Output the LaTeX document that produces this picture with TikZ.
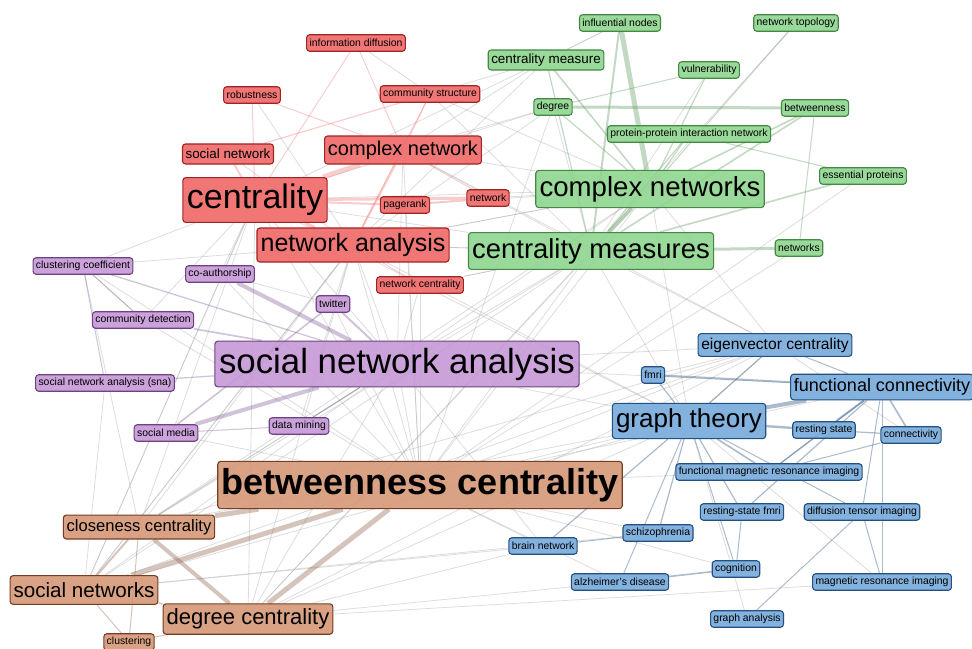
\documentclass[tikz,border=0pt]{standalone}
\usepackage{fontspec}
\setmainfont{Liberation Sans}
\usetikzlibrary{backgrounds}

\definecolor{redfill}{RGB}{240,100,100}
\definecolor{redline}{RGB}{160,36,36}
\definecolor{greenfill}{RGB}{140,212,140}
\definecolor{greenline}{RGB}{68,136,68}
\definecolor{purplefill}{RGB}{196,150,214}
\definecolor{purpleline}{RGB}{110,66,130}
\definecolor{bluefill}{RGB}{115,168,218}
\definecolor{blueline}{RGB}{36,80,128}
\definecolor{brownfill}{RGB}{214,150,115}
\definecolor{brownline}{RGB}{116,62,36}

\begin{document}
\begin{tikzpicture}[
      x=0.5pt, y=-0.5pt,
      kw/.style={draw, rounded corners=1.5pt, line width=0.55pt, text=black,
                 fill opacity=.88, text opacity=1,
                 font=\fontsize{#1}{#1}\selectfont, inner xsep={0.05*#1pt+1.2pt},
                 inner ysep=0pt, minimum height={1.2*#1pt+2pt}},
      kwred/.style={kw=#1, fill=redfill, draw=redline}, kwred/.default=5.2,
      kwgreen/.style={kw=#1, fill=greenfill, draw=greenline}, kwgreen/.default=5.2,
      kwpurple/.style={kw=#1, fill=purplefill, draw=purpleline}, kwpurple/.default=5.2,
      kwblue/.style={kw=#1, fill=bluefill, draw=blueline}, kwblue/.default=5.2,
      kwbrown/.style={kw=#1, fill=brownfill, draw=brownline}, kwbrown/.default=5.2,
      link/.style={draw=black!35, line width=#1, opacity=.38}, link/.default=0.4pt,
      linkred/.style={draw=redfill!80, line width=#1, opacity=.4},
      linkgreen/.style={draw=greenline!80, line width=#1, opacity=.4},
      linkpurple/.style={draw=purpleline!80, line width=#1, opacity=.4},
      linkblue/.style={draw=blueline!85, line width=#1, opacity=.45},
      linkbrown/.style={draw=brownline!80, line width=#1, opacity=.38},
    ]
    \useasboundingbox (0,0) rectangle (972,648);

    % red cluster
    \node[kwred] (info) at (356,43) {information diffusion};
    \node[kwred] (robust) at (252,95) {robustness};
    \node[kwred] (comstr) at (430,94) {community structure};
    \node[kwred=6.7] (socnet) at (228,154) {social network};
    \node[kwred=10] (cnet) at (403,150) {complex network};
    \node[kwred=17] (cent) at (255,200) {centrality};
    \node[kwred] (pager) at (405,205) {pagerank};
    \node[kwred] (net) at (488,198) {network};
    \node[kwred=12.5] (nana) at (353,245) {network analysis};
    \node[kwred] (netcent) at (420,285) {network centrality};

    % green cluster
    \node[kwgreen] (infl) at (620,23) {influential nodes};
    \node[kwgreen] (topo) at (796,23) {network topology};
    \node[kwgreen=6.7] (cmeas) at (546,60) {centrality measure};
    \node[kwgreen] (vuln) at (709,70) {vulnerability};
    \node[kwgreen] (deg) at (553,107) {degree};
    \node[kwgreen] (betw) at (815,108) {betweenness};
    \node[kwgreen] (ppi) at (689,134) {protein-protein interaction network};
    \node[kwgreen] (ess) at (863,176) {essential proteins};
    \node[kwgreen=13.8] (cnets) at (650,189) {complex networks};
    \node[kwgreen=13.7] (cmeasures) at (591,251) {centrality measures};
    \node[kwgreen] (nets) at (799,248) {networks};

    % purple cluster
    \node[kwpurple] (clcoef) at (83,266) {clustering coefficient};
    \node[kwpurple] (coauth) at (220,274) {co-authorship};
    \node[kwpurple] (twit) at (333,304) {twitter};
    \node[kwpurple] (comdet) at (143,320) {community detection};
    \node[kwpurple=17.4] (sna) at (397,364) {social network analysis};
    \node[kwpurple] (snasna) at (105,383) {social network analysis (sna)};
    \node[kwpurple] (smedia) at (166,433) {social media};
    \node[kwpurple] (dmin) at (299,426) {data mining};

    % blue cluster
    \node[kwblue=7.8] (eig) at (775,345) {eigenvector centrality};
    \node[kwblue] (fmri) at (653,375) {fmri};
    \node[kwblue=9] (fconn) at (882,387) {functional connectivity};
    \node[kwblue=13] (gt) at (689,421) {graph theory};
    \node[kwblue] (rest) at (824,430) {resting state};
    \node[kwblue] (conn) at (911,435) {connectivity};
    \node[kwblue] (fmrimg) at (769,472) {functional magnetic resonance imaging};
    \node[kwblue] (rsfmri) at (742,512) {resting-state fmri};
    \node[kwblue] (dti) at (862,512) {diffusion tensor imaging};
    \node[kwblue] (schiz) at (658,533) {schizophrenia};
    \node[kwblue] (brain) at (543,546) {brain network};
    \node[kwblue] (cogn) at (736,569) {cognition};
    \node[kwblue] (alz) at (620,582) {alzheimer's disease};
    \node[kwblue] (mri) at (882,582) {magnetic resonance imaging};
    \node[kwblue] (ganal) at (747,619) {graph analysis};

    % brown cluster
    \node[kwbrown=18, font=\fontsize{18}{18}\selectfont\bfseries] (bc) at (420,485) {betweenness centrality};
    \node[kwbrown=8.3] (clos) at (139,527) {closeness centrality};
    \node[kwbrown=10.3] (socnets) at (84,590) {social networks};
    \node[kwbrown=11] (degc) at (248,619) {degree centrality};
    \node[kwbrown] (clust) at (129,642) {clustering};

    \begin{scope}[on background layer]
      \fill[white] (0,0) rectangle (972,648);
      % links between clusters
      \foreach \a/\b in {cent/sna, cent/bc, cent/clcoef, cent/socnets, cent/clos, cent/degc,
          cent/cmeasures, cent/cnets, cent/gt, cent/comdet, cent/coauth,
          nana/sna, nana/bc, nana/clcoef, nana/socnets, nana/cmeasures, nana/cnets, nana/gt,
          nana/degc, nana/clos, nana/twit, nana/dmin,
          cnet/sna, cnet/bc, cnet/cnets, cnet/cmeasures, cnet/cmeas, cnet/deg, cnet/eig,
          sna/cmeasures, sna/cnets, sna/gt, sna/eig, sna/socnets, sna/degc, sna/clos,
          sna/netcent, sna/fconn, sna/brain,
          bc/cmeasures, bc/cnets, bc/gt, bc/eig, bc/fconn, bc/brain, bc/schiz, bc/clcoef,
          bc/twit, bc/netcent, bc/pager, bc/ess, bc/nets, bc/fmrimg, bc/smedia, bc/deg,
          bc/sna, bc/comdet, bc/coauth,
          degc/cmeasures, degc/eig, degc/gt, degc/mri, degc/cnets, degc/brain, degc/alz,
          clos/cmeasures, clos/eig, clos/cnets, clos/gt, clos/clcoef, clos/sna,
          socnets/eig, socnets/cmeasures, socnets/gt, socnets/brain, socnets/snasna,
          socnets/cent, socnets/nana,
          cmeasures/eig, cmeasures/gt, cmeasures/netcent, cmeasures/comstr, cmeasures/nana,
          cnets/gt, cnets/eig, cnets/net, cnets/comstr, cnets/nana,
          gt/eig, eig/fmri, eig/conn,
          clcoef/comdet, coauth/twit, cmeas/comstr, cmeas/nana, cmeas/cent,
          deg/cent, deg/nana, topo/cmeasures, vuln/cmeasures, deg/cmeasures,
          info/comstr, robust/nana, socnet/nana, netcent/cmeasures, pager/cnets,
          mri/gt, ganal/gt, schiz/socnets, alz/bc, cogn/bc}
        \draw[link] (\a) -- (\b);

      % links inside the clusters
      \foreach \a/\b/\w in {cent/cnet/2.5pt, cent/net/1.5pt, cent/pager/1pt, cent/nana/1.5pt,
          info/cent/0.5pt, info/cnet/0.5pt, robust/cent/0.5pt, robust/cnet/0.5pt,
          comstr/socnet/0.6pt, comstr/cnet/0.5pt, comstr/nana/0.5pt, socnet/cent/1pt,
          pager/net/0.8pt, cnet/nana/1pt, cnet/net/0.5pt, netcent/nana/0.5pt}
        \draw[linkred=\w] (\a) -- (\b);
      \foreach \a/\b/\w in {infl/cnets/2.5pt, infl/cmeasures/1pt, cmeas/cnets/0.8pt,
          cmeas/cmeasures/0.6pt, deg/betw/1.5pt, deg/cnets/0.6pt, vuln/cnets/0.6pt,
          vuln/deg/0.5pt, betw/cnets/0.8pt, betw/cmeasures/0.8pt, betw/nets/0.5pt,
          topo/cnets/0.5pt, ess/cmeasures/0.8pt, ess/ppi/0.5pt, cmeasures/nets/1.5pt,
          cnets/cmeasures/2pt, ppi/cnets/0.6pt, ppi/cmeasures/0.6pt, infl/cmeas/0.5pt}
        \draw[linkgreen=\w] (\a) -- (\b);
      \foreach \a/\b/\w in {coauth/sna/2pt, twit/smedia/0.8pt, smedia/sna/2pt,
          smedia/dmin/0.5pt, comdet/sna/0.8pt, clcoef/sna/0.6pt, clcoef/snasna/0.5pt,
          snasna/sna/0.6pt, twit/sna/1pt, dmin/sna/0.6pt, comdet/clcoef/0.5pt}
        \draw[linkpurple=\w] (\a) -- (\b);
      \foreach \a/\b/\w in {gt/fconn/2pt, gt/rest/1.2pt, fmri/fconn/1pt, fmri/gt/0.6pt,
          gt/fmrimg/0.8pt, fconn/rest/1pt, fconn/conn/0.8pt, fconn/fmrimg/0.6pt,
          fconn/dti/0.5pt, fconn/rsfmri/0.6pt, gt/schiz/0.6pt, gt/cogn/0.5pt, gt/alz/0.5pt,
          gt/brain/0.6pt, gt/rsfmri/0.6pt, alz/cogn/0.8pt, brain/schiz/0.5pt,
          dti/ganal/0.5pt, mri/fconn/0.5pt, eig/gt/0.6pt, eig/fconn/0.5pt, rest/conn/0.6pt,
          rsfmri/cogn/0.5pt, dti/mri/0.5pt, gt/dti/0.5pt, fmrimg/conn/0.5pt,
          rest/fmrimg/0.5pt}
        \draw[linkblue=\w] (\a) -- (\b);
      \foreach \a/\b/\w in {bc/clos/2.5pt, bc/socnets/2.5pt, bc/degc/2.5pt, clos/degc/2pt,
          clos/socnets/1pt, socnets/degc/0.8pt, clust/degc/0.5pt, clust/clos/0.5pt,
          clust/socnets/0.5pt}
        \draw[linkbrown=\w] (\a) -- (\b);
    \end{scope}
  \end{tikzpicture}
\end{document}
